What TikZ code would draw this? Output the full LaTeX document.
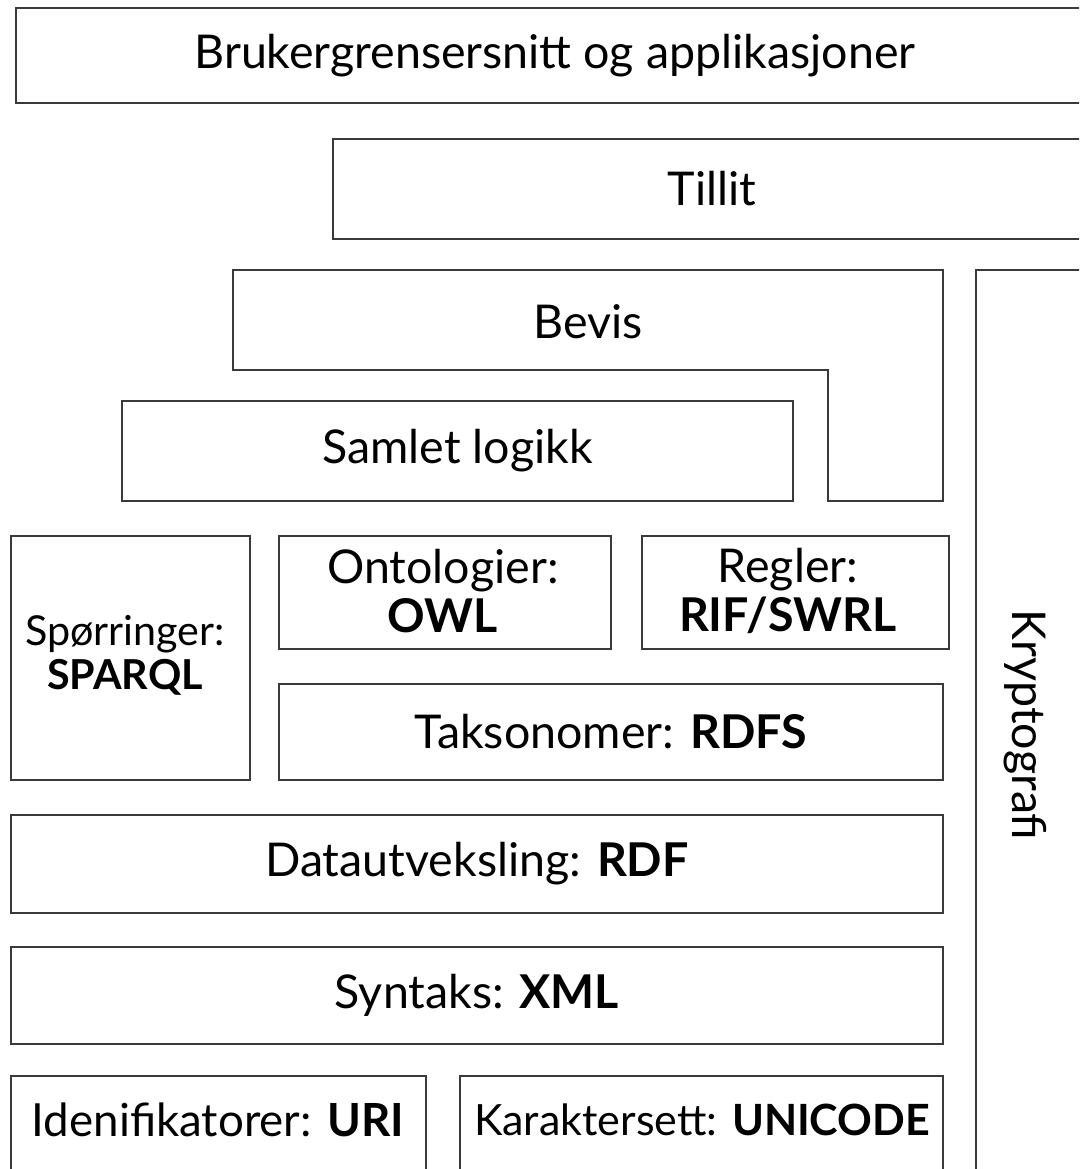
\documentclass[tikz,border=0pt]{standalone}
\usepackage{fontspec}
\setmainfont{Lato}
\usetikzlibrary{fit}
\definecolor{framegray}{RGB}{58,58,58}
\tikzset{
  layer/.style={draw=framegray, line width=1.2pt, inner sep=0pt, outer sep=0pt},
  caption/.style={font=\fontsize{26.5}{27.5}\selectfont, align=center},
  smallcaption/.style={font=\fontsize{23.5}{25}\selectfont, align=center}
}

\begin{document}
\begin{tikzpicture}[x=0.02cm, y=-0.02cm]
    \clip (0,0) rectangle (1079,1169);
    % upper layers, cut at the right edge
    \node[layer, fit={(16,8) (1094,103)}] (apps) {};
    \node[caption] (appslabel) at (apps.center) {Brukergrensersnitt og applikasjoner};
    \node[layer, fit={(333,139) (1091,239)}] (trust) {};
    \node[caption] (trustlabel) at (trust.center) {Tillit};
    \draw[draw=framegray, line width=1.2pt] (233,270) -| (943,501) -| (828,370) -| (233,270) -- cycle;
    \node[caption] (proof) at (588,322) {Bevis};
    \node[layer, fit={(122,401) (793,501)}] (logic) {};
    \node[caption] (logiclabel) at (logic.center) {Samlet logikk};
    % middle layers
    \node[layer, fit={(11,536) (250,780)}] (query) {};
    \node[smallcaption] (querylabel) at (125,655) {Spørringer:\\\textbf{SPARQL}};
    \node[layer, fit={(279,536) (611,649)}] (onto) {};
    \node[caption] (ontolabel) at (443,591) {Ontologier:\\\textbf{OWL}};
    \node[layer, fit={(642,536) (949,649)}] (rules) {};
    \node[caption] (ruleslabel) at (788,591) {Regler:\\\textbf{RIF/SWRL}};
    \node[layer, fit={(279,684) (943,780)}] (rdfs) {};
    \node[caption] (rdfslabel) at (rdfs.center) {Taksonomer: \textbf{RDFS}};
    \node[layer, fit={(11,815) (943,913)}] (rdf) {};
    \node[caption] (rdflabel) at (rdf.center) {Datautveksling: \textbf{RDF}};
    \node[layer, fit={(11,947) (943,1044)}] (xml) {};
    \node[caption] (xmllabel) at (xml.center) {Syntaks: \textbf{XML}};
    % bottom layers, cut at the lower edge
    \node[layer, fit={(11,1076) (426,1200)}] (uri) {};
    \node[caption, font=\fontsize{26}{30}\selectfont] (urilabel) at (218,1120) {Idenifikatorer: \textbf{URI}};
    \node[layer, fit={(460,1076) (943,1200)}] (unicode) {};
    \node[caption, font=\fontsize{24.5}{28}\selectfont] (unicodelabel) at (702,1120) {Karaktersett: \textbf{UNICODE}};
    % side column
    \node[layer, fit={(976,270) (1110,1200)}] (crypto) {};
    \node[caption, rotate=-90] (cryptolabel) at (1025,725) {Kryptografi};
\end{tikzpicture}
\end{document}
